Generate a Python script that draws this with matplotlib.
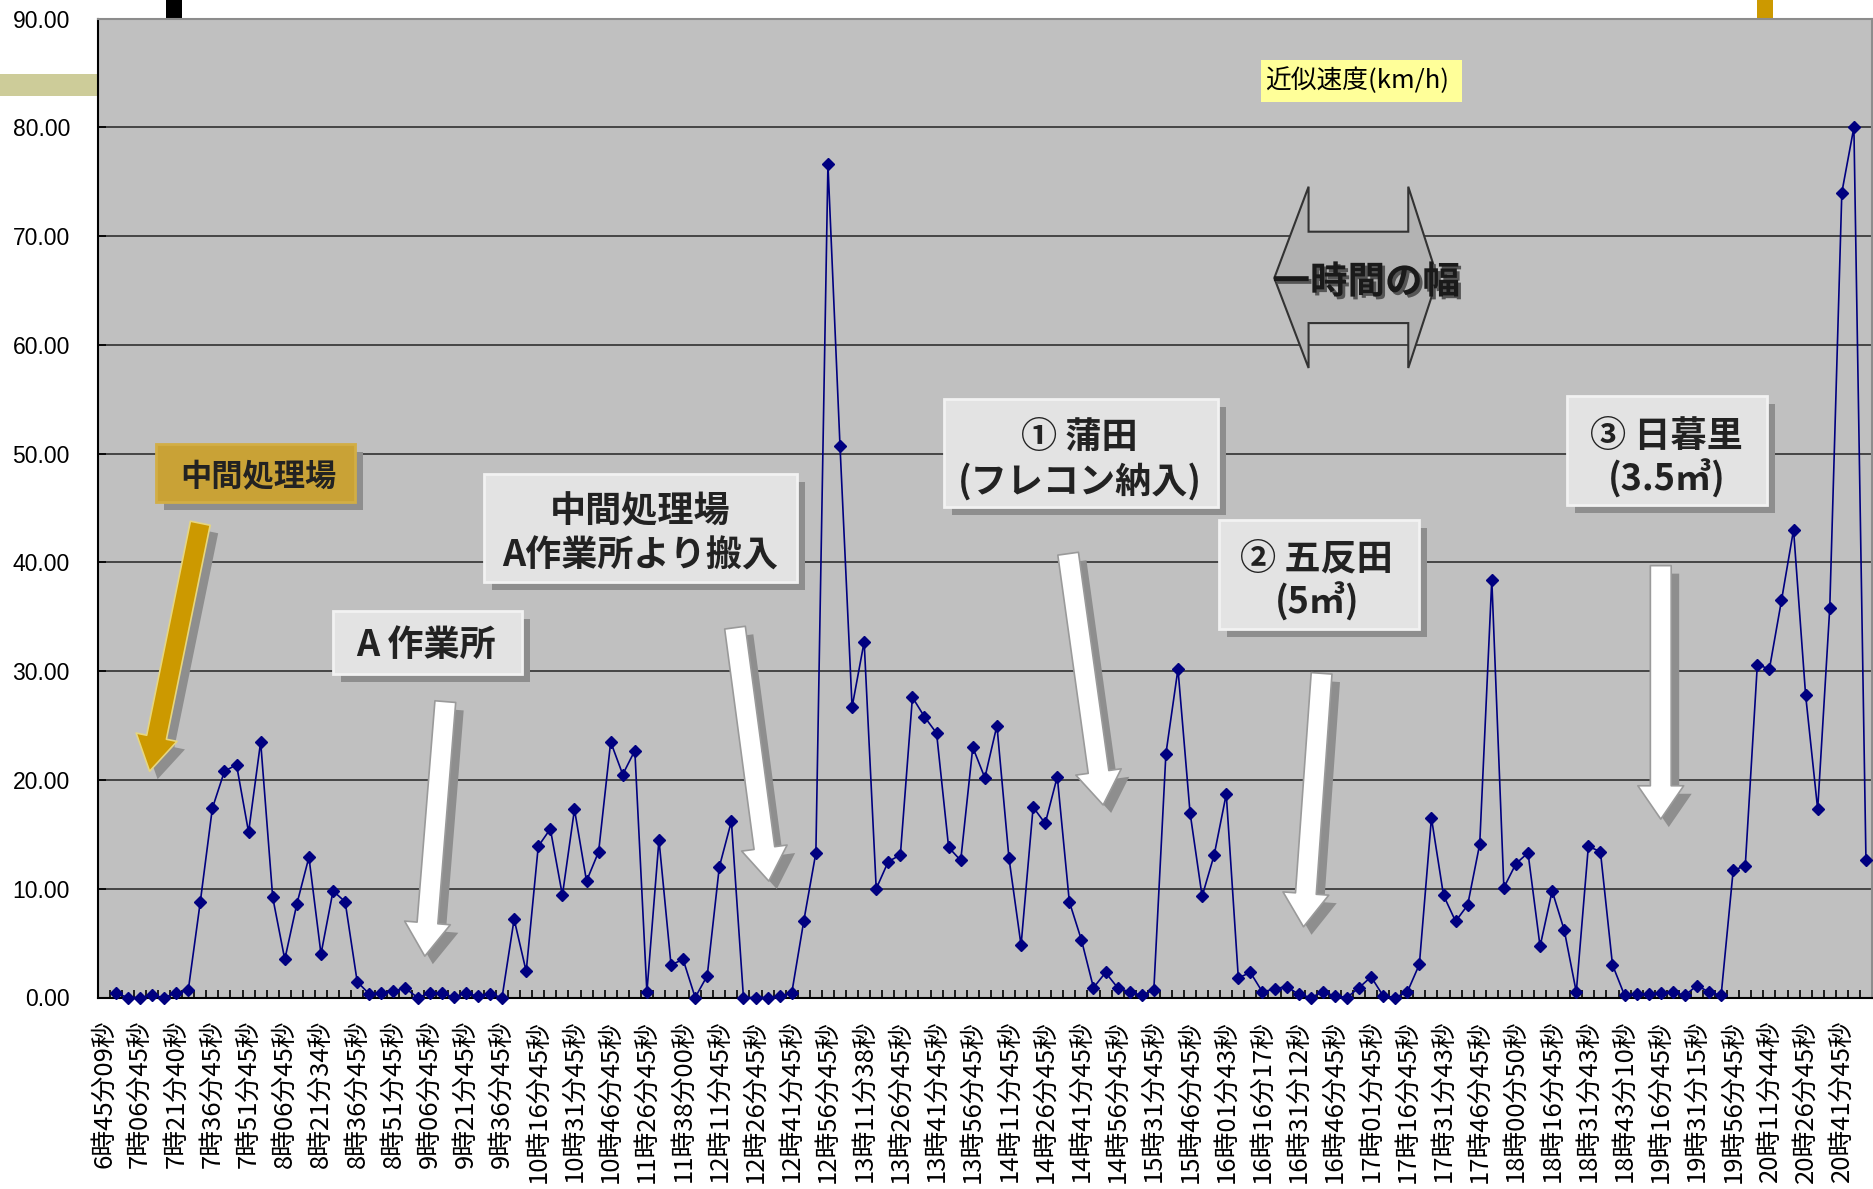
import numpy as np
import matplotlib
matplotlib.use('Agg')
import matplotlib.pyplot as plt
import matplotlib.transforms as mtransforms
import matplotlib.patheffects as pe
from matplotlib.patches import Rectangle, Polygon, FancyArrowPatch, ArrowStyle
from matplotlib.ticker import FormatStrFormatter

plt.rcParams['font.family'] = ['Noto Sans CJK JP', 'DejaVu Sans']

# 時刻ラベル（3区間ごと）
time_labels = [
    '6時45分09秒', '7時06分45秒', '7時21分40秒', '7時36分45秒', '7時51分45秒',
    '8時06分45秒', '8時21分34秒', '8時36分45秒', '8時51分45秒', '9時06分45秒',
    '9時21分45秒', '9時36分45秒', '10時16分45秒', '10時31分45秒', '10時46分45秒',
    '11時26分45秒', '11時38分00秒', '12時11分45秒', '12時26分45秒', '12時41分45秒',
    '12時56分45秒', '13時11分38秒', '13時26分45秒', '13時41分45秒', '13時56分45秒',
    '14時11分45秒', '14時26分45秒', '14時41分45秒', '14時56分45秒', '15時31分45秒',
    '15時46分45秒', '16時01分43秒', '16時16分17秒', '16時31分12秒', '16時46分45秒',
    '17時01分45秒', '17時16分45秒', '17時31分43秒', '17時46分45秒', '18時00分50秒',
    '18時16分45秒', '18時31分43秒', '18時43分10秒', '19時16分45秒', '19時31分15秒',
    '19時56分45秒', '20時11分44秒', '20時26分45秒', '20時41分45秒',
]

# 近似速度 (km/h)  区間1〜146（区間0は空）
speed = [
    0.4, 0.0, 0.0, 0.2, 0.0, 0.4, 0.65,
    8.8, 17.4, 20.8, 21.4, 15.2, 23.5, 9.2, 3.5, 8.6, 12.9, 4.0, 9.8, 8.8, 1.45,
    0.32, 0.38, 0.63, 0.84, 0.0, 0.38, 0.38, 0.05, 0.38, 0.14, 0.32, 0.0,
    7.2, 2.4, 13.9, 15.5, 9.4, 17.3, 10.7, 13.4, 23.5, 20.5, 22.7, 0.5, 14.5,
    3.0, 3.5, 0.0, 2.0, 12.0, 16.2,
    0.0, 0.0, 0.0, 0.1, 0.4,
    7.05, 13.3, 76.6, 50.7, 26.7, 32.7, 10.0, 12.5, 13.1, 27.6, 25.8, 24.3,
    13.8, 12.6, 23.0, 20.2, 25.0, 12.8, 4.8, 17.5, 16.0, 20.3, 8.8, 5.3,
    0.9, 2.3, 0.9, 0.5, 0.2, 0.7,
    22.4, 30.2, 17.0, 9.3, 13.1, 18.7,
    1.8, 2.3, 0.5, 0.8, 1.0, 0.3, 0.0, 0.5, 0.15, 0.0, 0.9, 1.9, 0.15, 0.0, 0.5, 3.05,
    16.5, 9.4, 7.0, 8.5, 14.1, 38.4, 10.1, 12.3, 13.3, 4.7, 9.8, 6.2, 0.5, 13.9, 13.4, 3.0,
    0.2, 0.3, 0.3, 0.4, 0.5, 0.2, 1.1, 0.5, 0.2,
    11.7, 12.1, 30.6, 30.2, 36.5, 43.0, 27.8, 17.3, 35.8, 74.0, 80.0, 12.6,
]
n_cat = 147
x = np.arange(1, n_cat)

fig = plt.figure(figsize=(18.73, 11.89), dpi=100)
ax = fig.add_axes([97.7 / 1873, 1 - 997.5 / 1189, (1872 - 97.7) / 1873, 979 / 1189])
ax.set_facecolor('#C0C0C0')
ax.set_xlim(-0.5, n_cat - 0.5)
ax.set_ylim(0, 90)

ax.plot(x, speed, color='#000080', lw=1.2, marker='D', ms=5.8, zorder=3, clip_on=False)

# 軸まわり
ax.set_yticks(np.arange(0, 91, 10))
ax.yaxis.set_major_formatter(FormatStrFormatter('%.2f'))
ax.tick_params(axis='y', direction='in', length=6, width=1.2, pad=20, labelsize=16.5)
for t in ax.get_yticklabels():
    t.set_fontfamily(['Liberation Sans', 'DejaVu Sans'])

ax.set_xticks(np.arange(0, n_cat, 3))
ax.set_xticklabels(time_labels, rotation=90, fontsize=18.5)
ax.set_xticks(np.arange(-0.5, n_cat, 1), minor=True)
ax.tick_params(axis='x', which='major', length=0, pad=16)
ax.tick_params(axis='x', which='minor', direction='in', length=6, width=1.2)

ax.yaxis.grid(True, color='#3c3c3c', lw=1.3)
ax.set_axisbelow(True)
for s in ['left', 'bottom']:
    ax.spines[s].set_color('black')
    ax.spines[s].set_linewidth(1.5)
for s in ['top', 'right']:
    ax.spines[s].set_color('#8c8c8c')
    ax.spines[s].set_linewidth(1.5)

shadow_tr = mtransforms.offset_copy(ax.transData, fig=fig, x=8, y=-8, units='dots')


def note_box(x0, y0, w, h, face, edge):
    ax.add_patch(Rectangle((x0, y0), w, h, transform=shadow_tr, fc='#8e8e8e', ec='none', zorder=5))
    ax.add_patch(Rectangle((x0, y0), w, h, fc=face, ec=edge, lw=2, zorder=6))


def note_text(xc, yc, s, size):
    ax.text(xc, yc, s, ha='center', va='center', fontsize=size, fontweight='bold',
            color='#222222', zorder=7)


def block_arrow(tail, tip, face, edge, tw=15, hw=33, hl=24):
    style = ArrowStyle.Simple(head_length=hl, head_width=hw, tail_width=tw)
    ax.add_patch(FancyArrowPatch(tail, tip, arrowstyle=style, mutation_scale=1,
                                 shrinkA=0, shrinkB=0, transform=shadow_tr,
                                 fc='#8e8e8e', ec='none', zorder=5))
    ax.add_patch(FancyArrowPatch(tail, tip, arrowstyle=style, mutation_scale=1,
                                 shrinkA=0, shrinkB=0, fc=face, ec=edge, lw=1.2, zorder=6))


# 中間処理場（金色）
note_box(4.3, 45.55, 16.5, 5.33, '#C9A236', '#D2AE45')
note_text(12.8, 47.8, '中間処理場', 22.5)
block_arrow((8.0, 43.6), (3.8, 20.8), '#CC9900', '#E6D680', tw=14.5, hw=30, hl=25)

# A 作業所
note_box(19.0, 29.7, 15.65, 5.84, '#E3E3E3', '#F2F2F2')
note_text(26.7, 32.4, 'A 作業所', 26)
block_arrow((28.3, 27.2), (26.6, 3.8), 'white', '#9a9a9a')

# 中間処理場 A作業所より搬入
note_box(31.5, 38.2, 25.9, 9.9, '#E3E3E3', '#F2F2F2')
note_text(44.46, 44.7, '中間処理場', 26)
note_text(44.46, 40.6, 'A作業所より搬入', 26)
block_arrow((52.3, 34.0), (55.1, 10.7), 'white', '#9a9a9a')

# ① 蒲田
note_box(69.6, 45.05, 22.7, 10.0, '#E3E3E3', '#F2F2F2')
note_text(80.85, 51.5, '① 蒲田', 26)
note_text(80.85, 47.4, '(フレコン納入)', 26)
block_arrow((79.9, 40.8), (82.8, 17.7), 'white', '#9a9a9a')

# ② 五反田
note_box(92.4, 33.9, 16.6, 10.0, '#E3E3E3', '#F2F2F2')
note_text(100.5, 40.3, '② 五反田', 26)
note_text(100.5, 36.4, '(5㎥)', 26)
block_arrow((100.9, 29.8), (99.4, 6.5), 'white', '#9a9a9a')

# ③ 日暮里
note_box(121.2, 45.3, 16.6, 10.0, '#E3E3E3', '#F2F2F2')
note_text(129.5, 51.6, '③ 日暮里', 26)
note_text(129.5, 47.7, '(3.5㎥)', 26)
block_arrow((129.0, 39.7), (129.0, 16.4), 'white', '#9a9a9a')

# 一時間の幅（両矢印）
dbl_x = [96.98, 99.82, 99.82, 108.08, 108.08, 110.52, 108.08, 108.08, 99.82, 99.82]
dbl_y = [66.14, 74.54, 70.4, 70.4, 74.54, 66.14, 57.87, 62.0, 62.0, 57.87]
ax.add_patch(Polygon(list(zip(dbl_x, dbl_y)), closed=True, fc='#B3B3B3', ec='#333333',
                     lw=1.5, zorder=6))
ax.text(104.6, 65.8, '一時間の幅', ha='center', va='center', fontsize=27, fontweight='bold',
        color='#1a1a1a', zorder=7,
        path_effects=[pe.SimplePatchShadow(offset=(2, -2), shadow_rgbFace='#555555', alpha=1),
                      pe.Normal()])

# 凡例
ax.add_patch(Rectangle((95.9, 82.35), 16.6, 3.83, fc='#FFFF99', ec='none', zorder=6))
ax.text(96.2, 84.25, '近似速度(km/h)', ha='left', va='center', fontsize=18.5, zorder=7)

# 枠外の目印
ax.add_patch(Rectangle((5.13, 90), 1.33, 1.75, fc='black', ec='none', clip_on=False, zorder=1))
ax.add_patch(Rectangle((136.97, 90), 1.29, 1.75, fc='#CC9900', ec='none', clip_on=False, zorder=1))
ax.add_patch(Rectangle((-8.6, 82.9), 8.1, 2.0, fc='#CDCC99', ec='none', clip_on=False, zorder=1))

fig.savefig('out.png', dpi=100)
